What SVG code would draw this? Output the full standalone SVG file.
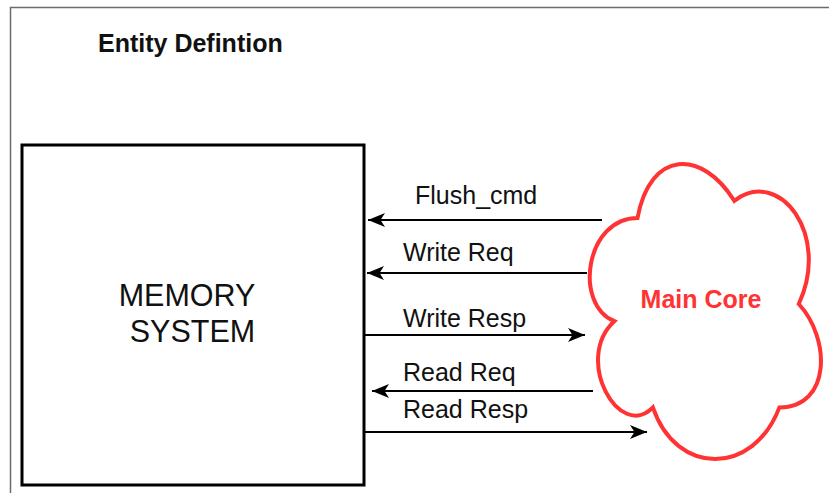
<svg xmlns="http://www.w3.org/2000/svg" width="829" height="493" viewBox="0 0 829 493">
<style>
  .lbl { font-family: "Liberation Sans", Arial, sans-serif; font-size: 25px; fill: #111; }
  .title { font-family: "Liberation Sans", Arial, sans-serif; font-size: 25px; font-weight: bold; fill: #111; }
  .mem { font-family: "Liberation Sans", Arial, sans-serif; font-size: 30.5px; fill: #111; text-anchor: middle; }
  .core { font-family: "Liberation Sans", Arial, sans-serif; font-size: 25px; font-weight: bold; fill: #FF3333; text-anchor: middle; }
  .conn { stroke: #000; stroke-width: 2; fill: none; marker-end: url(#arrow); }
</style>
<defs>
  <marker id="arrow" markerUnits="userSpaceOnUse" markerWidth="19" markerHeight="17" viewBox="-18 -8.5 19 17" refX="0" refY="0" orient="auto">
    <path d="M0,0 L-17,-7 L-12.5,0 L-17,7 Z" fill="#000"/>
  </marker>
</defs>
<rect width="829" height="493" fill="#fff"/>
<path d="M10.5,493 V7.5 H829" fill="none" stroke="#6b6b6b" stroke-width="1.5"/>
<g id="title">
  <text class="title" x="98" y="52">Entity Defintion</text>
</g>
<g id="memory-system">
  <rect x="22" y="145" width="342" height="340" fill="#fff" stroke="#000" stroke-width="3"/>
  <text class="mem" x="187" y="306">MEMORY</text>
  <text class="mem" x="192.5" y="342">SYSTEM</text>
</g>
<g id="main-core">
  <path d="M637.5,218 C585.9,218 573,304 614.3,321.2 C573,359.1 619.4,441.8 652.9,407.4 C676.1,476.2 753.5,476.2 779.4,407.4 C831,407.4 831,338.6 798.75,304 C831,235.2 779.4,166.4 734.25,200.8 C702,149.2 650.4,149.2 637.5,218 Z" fill="#fff" stroke="#FF3333" stroke-width="4"/>
  <text class="core" x="701" y="308">Main Core</text>
</g>
<g id="connectors">
  <line class="conn" x1="602" y1="220" x2="368" y2="220"/>
  <line class="conn" x1="587" y1="273" x2="367" y2="273"/>
  <line class="conn" x1="364" y1="335" x2="585" y2="335"/>
  <line class="conn" x1="593" y1="391" x2="372" y2="391"/>
  <line class="conn" x1="364" y1="432" x2="647" y2="432"/>
  <text class="lbl" x="415" y="204">Flush_cmd</text>
  <text class="lbl" x="403" y="261">Write Req</text>
  <text class="lbl" x="403" y="327">Write Resp</text>
  <text class="lbl" x="403" y="381">Read Req</text>
  <text class="lbl" x="403" y="418">Read Resp</text>
</g>
</svg>
